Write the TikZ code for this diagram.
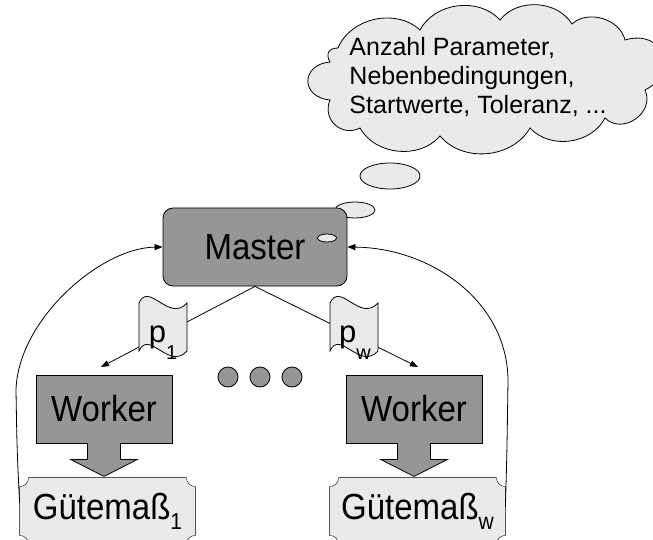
\documentclass[tikz,border=0pt]{standalone}
\usepackage{fontspec}
\setmainfont{Liberation Sans}
\usepackage{graphicx}
\usetikzlibrary{shapes.geometric,arrows.meta,calc,backgrounds}
\definecolor{darkfill}{HTML}{969696}
\definecolor{lightfill}{HTML}{EAEAEA}
\newcommand\bigt[1]{\scalebox{1}[1.1]{\fontsize{33}{36}\selectfont #1}}
\newcommand\subt[1]{\raisebox{-9pt}{\fontsize{21}{21}\selectfont #1}}
\newcommand\ptext[2]{{\fontsize{31}{31}\selectfont p}\raisebox{-17pt}{\fontsize{20}{20}\selectfont #2}}
\newcommand\plaquepath[2]{%
  ($(#1.north west)+(#2,0)$) -- ($(#1.north east)+(-#2,0)$)
  arc[start angle=180,end angle=270,radius=#2]
  -- ($(#1.south east)+(0,#2)$)
  arc[start angle=90,end angle=180,radius=#2]
  -- ($(#1.south west)+(#2,0)$)
  arc[start angle=0,end angle=90,radius=#2]
  -- ($(#1.north west)+(0,-#2)$)
  arc[start angle=270,end angle=360,radius=#2] -- cycle}
\newcommand\tapepath[1]{%
  ($(#1)+(-24,-22)$) -- ($(#1)+(-24,26)$)
  .. controls ($(#1)+(-14,48)$) and ($(#1)+(6,6)$) .. ($(#1)+(24,26)$)
  -- ($(#1)+(24,-22)$)
  .. controls ($(#1)+(6,-42)$) and ($(#1)+(-14,0)$) .. ($(#1)+(-24,-22)$) -- cycle}
\begin{document}
\begin{tikzpicture}[x=1pt,y=1pt,
  line width=0.8pt,
  darkbox/.style={draw=black,fill=darkfill,inner sep=0pt},
  lightshape/.style={draw=black,fill=lightfill},
  plaquetext/.style={inner sep=0pt,minimum width=175pt,minimum height=66pt},
  bubble/.style={ellipse,draw=black,fill=lightfill,inner sep=0pt},
  dotc/.style={circle,draw=black,fill=darkfill,inner sep=0pt,minimum size=20pt},
  arr/.style={-{Triangle[length=8pt,width=6pt]}},
  puff/.style={bend left=#1},
]
\useasboundingbox (0,0) rectangle (653,-540);

% cloud with text (puffs between cusp points, clockwise)
\path[lightshape]
  (338,-48) to[puff=55] (420,-30)
            to[puff=55] (500,-20)
            to[puff=55] (572,-24)
            to[puff=60] (625,-40)
            to[puff=85,looseness=1.9] (645,-90)
            to[puff=80,looseness=1.3] (605,-118)
            to[puff=55] (530,-128)
            to[puff=55] (440,-136)
            to[puff=55] (360,-128)
            to[puff=70,looseness=1.3] (330,-100)
            to[puff=85,looseness=2] (330,-62)
            to[puff=60,looseness=1.5] (338,-48) -- cycle;
\node[align=left,inner sep=0pt,font=\fontsize{25}{29}\selectfont] (cloudtext) at (478,-77)
  {Anzahl Parameter,\\Nebenbedingungen,\\Startwerte, Toleranz, ...};

% thought bubbles
\node[bubble,minimum width=60pt,minimum height=26pt] (b1) at (390,-176) {};
\node[bubble,minimum width=40pt,minimum height=16pt] (b2) at (355,-210) {};

% master
\node[darkbox,rounded corners=10pt,minimum width=184pt,minimum height=78pt] (master) at (255,-247) {\bigt{Master}};
\node[bubble,minimum width=19pt,minimum height=8pt] (b3) at (327,-238) {};

% workers
\node[darkbox,minimum width=136pt,minimum height=68pt] (wl) at (104,-409) {\bigt{Worker}};
\node[darkbox,minimum width=136pt,minimum height=68pt] (wr) at (414,-409) {\bigt{Worker}};

% block arrows
\foreach \w in {wl,wr}{
  \fill[darkfill] ($(\w.south)+(-16.5,1)$) -- ($(\w.south)+(-16.5,-16)$) -- ($(\w.south)+(-33.5,-16)$)
     -- ($(\w.south)+(0,-33)$) -- ($(\w.south)+(33.5,-16)$) -- ($(\w.south)+(16.5,-16)$) -- ($(\w.south)+(16.5,1)$) -- cycle;
  \draw[line join=miter] ($(\w.south)+(-16.5,0)$) -- ($(\w.south)+(-16.5,-16)$) -- ($(\w.south)+(-33.5,-16)$)
     -- ($(\w.south)+(0,-33)$) -- ($(\w.south)+(33.5,-16)$) -- ($(\w.south)+(16.5,-16)$) -- ($(\w.south)+(16.5,0)$);
}

% quality boxes
\node[plaquetext] (g1) at (107.5,-511) {\bigt{Gütemaß\subt{1}}};
\node[plaquetext] (gw) at (417.5,-511) {\bigt{Gütemaß\subt{w}}};
\begin{scope}[on background layer]
  \path[lightshape] \plaquepath{g1}{9};
  \path[lightshape] \plaquepath{gw}{9};
\end{scope}

% dots
\node[dotc] (d1) at (228,-377) {};
\node[dotc] (d2) at (260,-377) {};
\node[dotc] (d3) at (292,-377) {};

% distribution lines
\coordinate (t1) at (101,-367);
\coordinate (tw) at (418,-367);
\draw[arr] (master.south) -- (t1);
\draw[arr] (master.south) -- (tw);

% parameter tapes
\coordinate (p1c) at (163,-329);
\coordinate (pwc) at (354,-329);
\path[lightshape] \tapepath{p1c};
\path[lightshape] \tapepath{pwc};
\node[anchor=base,inner sep=0pt] (p1) at (163,-342) {\ptext{p}{1}};
\node[anchor=base,inner sep=0pt] (pw) at (355,-342) {\ptext{p}{w}};

% feedback curves
\coordinate (fl) at ($(g1.west)+(0,8)$);
\coordinate (fr) at ($(gw.east)+(0,4)$);
\draw[arr] (fl) .. controls (17,-450) .. (16,-390)
   .. controls (18,-320) and (100,-248) .. (master.west);
\draw[arr] (fr) .. controls (507,-450) .. (508,-380)
   .. controls (507,-300) and (430,-248) .. (master.east);
\end{tikzpicture}
\end{document}
